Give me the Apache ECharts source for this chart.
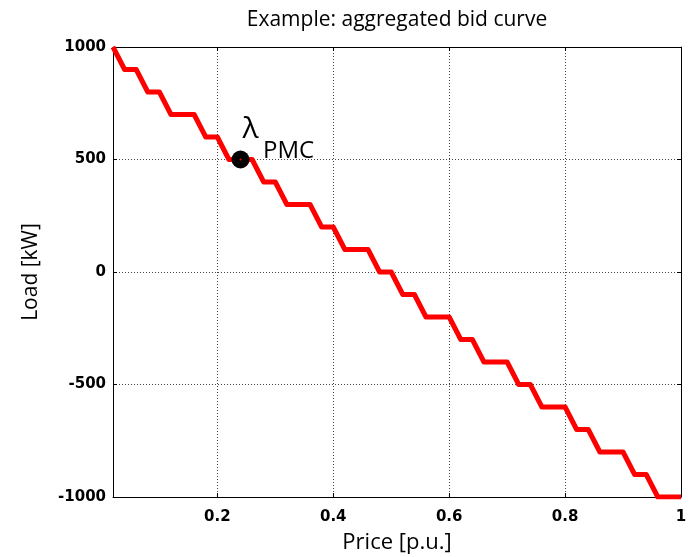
<!DOCTYPE html>
<html><head><meta charset="utf-8">
<script src="https://cdn.jsdelivr.net/npm/echarts@6/dist/echarts.min.js"></script>
<style>html,body{margin:0;padding:0;background:#fff}#c{width:695px;height:557px}</style>
</head><body><div id="c"></div>
<script>
const priceBreaks = [0.02,0.04,0.06,0.08,0.10,0.12,0.16,0.18,0.20,0.22,0.26,0.28,0.30,0.32,0.36,0.38,0.40,0.42,0.46,0.48,0.50,0.52,0.54,0.56,0.60,0.62,0.64,0.66,0.70,0.72,0.74,0.76,0.80,0.82,0.84,0.86,0.90,0.92,0.94,0.96,1.00];
const loadValues = [1000,900,900,800,800,700,700,600,600,500,500,400,400,300,300,200,200,100,100,0,0,-100,-100,-200,-200,-300,-300,-400,-400,-500,-500,-600,-600,-700,-700,-800,-800,-900,-900,-1000,-1000];
const pmcPoint = [0.24, 500];
const xTicks = [0.2, 0.4, 0.6, 0.8, 1];
const yTicks = [-1000, -500, 0, 500, 1000];
const titleText = 'Example: aggregated bid curve';
const xName = 'Price [p.u.]';
const yName = 'Load [kW]';

const FONT = '"Open Sans", sans-serif';
const TICKFONT = '"DejaVu Sans", sans-serif';
const curve = priceBreaks.map((p, i) => [p, loadValues[i]]);

const chart = echarts.init(document.getElementById('c'));
const splitStyle = {show: true, lineStyle: {color: '#444', type: [1, 2], width: 1}};
const baseX = {
  type: 'value', min: 0.02, max: 1,
  axisLine: {show: true, onZero: false, lineStyle: {color: '#000', width: 1}},
  axisTick: {show: true, inside: true, length: 4, customValues: xTicks, lineStyle: {color: '#000'}},
  axisLabel: {customValues: xTicks, formatter: v => String(+v.toFixed(2)), color: '#000', fontFamily: TICKFONT, fontSize: 15, fontWeight: 'bold', margin: 13},
  splitLine: splitStyle
};
const baseY = {
  type: 'value', min: -1000, max: 1000, interval: 500,
  axisLine: {show: true, onZero: false, lineStyle: {color: '#000', width: 1}},
  axisTick: {show: true, inside: true, length: 4, lineStyle: {color: '#000'}},
  axisLabel: {color: '#000', formatter: v => String(v), fontFamily: TICKFONT, fontSize: 15, fontWeight: 'bold', margin: 7},
  splitLine: splitStyle
};
chart.setOption({
  animation: false,
  title: {text: titleText, left: 392, textAlign: 'center', top: 5,
    textStyle: {fontFamily: FONT, fontSize: 21, fontWeight: 'normal', color: '#000'}},
  grid: {left: 113, right: 14, top: 47, bottom: 60, containLabel: false, outerBoundsMode: 'none'},
  xAxis: [
    Object.assign({}, baseX, {position: 'bottom', name: xName, nameLocation: 'middle', nameGap: 35,
      nameTextStyle: {fontFamily: FONT, fontSize: 22, color: '#000'}}),
    Object.assign({}, baseX, {position: 'top', axisLabel: {show: false, customValues: xTicks}, splitLine: {show: false}})
  ],
  yAxis: [
    Object.assign({}, baseY, {position: 'left', name: yName, nameLocation: 'middle', nameGap: 71,
      nameTextStyle: {fontFamily: FONT, fontSize: 21, color: '#000'}}),
    Object.assign({}, baseY, {position: 'right', axisLabel: {show: false}, splitLine: {show: false}})
  ],
  series: [
    {type: 'line', data: curve, showSymbol: false, symbol: 'none', clip: true,
     lineStyle: {color: '#ff0000', width: 5, join: 'round'}, z: 3},
    {type: 'scatter', data: [pmcPoint], symbolSize: 18, itemStyle: {color: '#000', opacity: 1}, z: 5,
     label: {show: true, formatter: 'λ', position: 'inside', offset: [10, -30], color: '#000',
       fontFamily: FONT, fontSize: 30}},
    {type: 'scatter', data: [pmcPoint], symbolSize: 2, itemStyle: {color: '#ff0000', opacity: 1}, z: 6,
     label: {show: true, formatter: 'PMC', position: 'inside', offset: [48, -8], color: '#000',
       fontFamily: FONT, fontSize: 24}}
  ]
});
</script></body></html>
